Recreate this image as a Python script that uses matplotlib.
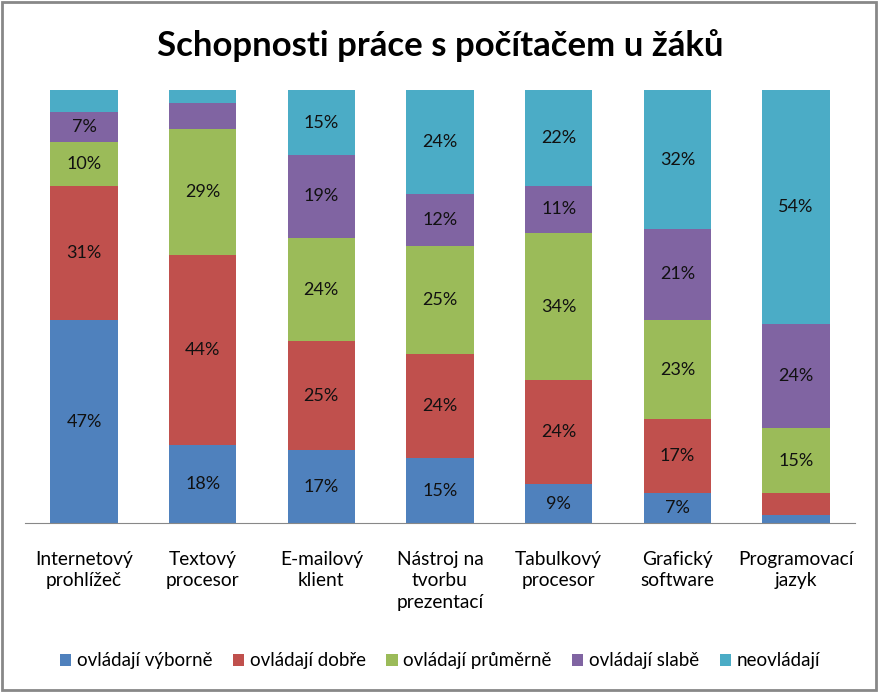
import matplotlib.pyplot as plt
import numpy as np
from matplotlib.patches import Rectangle

categories = ["Internetový\nprohlížeč", "Textový\nprocesor", "E-mailový\nklient",
              "Nástroj na\ntvorbu\nprezentací", "Tabulkový\nprocesor", "Grafický\nsoftware",
              "Programovací\njazyk"]
series_names = ["ovládají výborně", "ovládají dobře", "ovládají průměrně",
                "ovládají slabě", "neovládají"]
vyborne = [47, 18, 17, 15, 9, 7, 2]
dobre = [31, 44, 25, 24, 24, 17, 5]
prumerne = [10, 29, 24, 25, 34, 23, 15]
slabe = [7, 6, 19, 12, 11, 21, 24]
neovladaji = [5, 3, 15, 24, 22, 32, 54]
colors = ["#4f81bd", "#c0504d", "#9bbb59", "#8064a2", "#4bacc6"]

plt.rcParams['font.family'] = ['Lato', 'DejaVu Sans']

fig = plt.figure(figsize=(8.8, 6.95), dpi=100)
ax = fig.add_axes([0.028, 0.247, 0.944, 0.623])

x = np.arange(len(categories))
bottom = np.zeros(len(categories))
for name, vals, col in zip(series_names, [vyborne, dobre, prumerne, slabe, neovladaji], colors):
    vals = np.array(vals)
    ax.bar(x, vals, 0.565, bottom=bottom, color=col, label=name)
    for xi, b, v in zip(x, bottom, vals):
        if v >= 7:
            ax.text(xi, b + v / 2, f"{v}%", ha='center', va='center', fontsize=13, color='#111111')
    bottom += vals

ax.set_xlim(-0.5, len(categories) - 0.5)
ax.set_ylim(0, 100)
ax.set_xticks(x)
ax.set_xticklabels(categories, fontsize=13.8, linespacing=1.3, va='top')
ax.tick_params(axis='x', length=0, pad=20)
ax.set_yticks([])
for s in ['top', 'right', 'left']:
    ax.spines[s].set_visible(False)
ax.spines['bottom'].set_color('#888888')

fig.text(0.5, 0.935, "Schopnosti práce s počítačem u žáků", ha='center', va='center',
         fontsize=25, fontweight='bold')

fig.legend(loc='center', bbox_to_anchor=(0.5, 0.049), ncol=5, frameon=False, fontsize=13.5,
           handlelength=0.6, handleheight=0.6, handletextpad=0.3, columnspacing=1.1)

fig.patches.append(Rectangle((0.002, 0.007), 0.994, 0.99, transform=fig.transFigure,
                             fill=False, edgecolor='#888888', linewidth=2))

plt.savefig('out.png', dpi=100)
